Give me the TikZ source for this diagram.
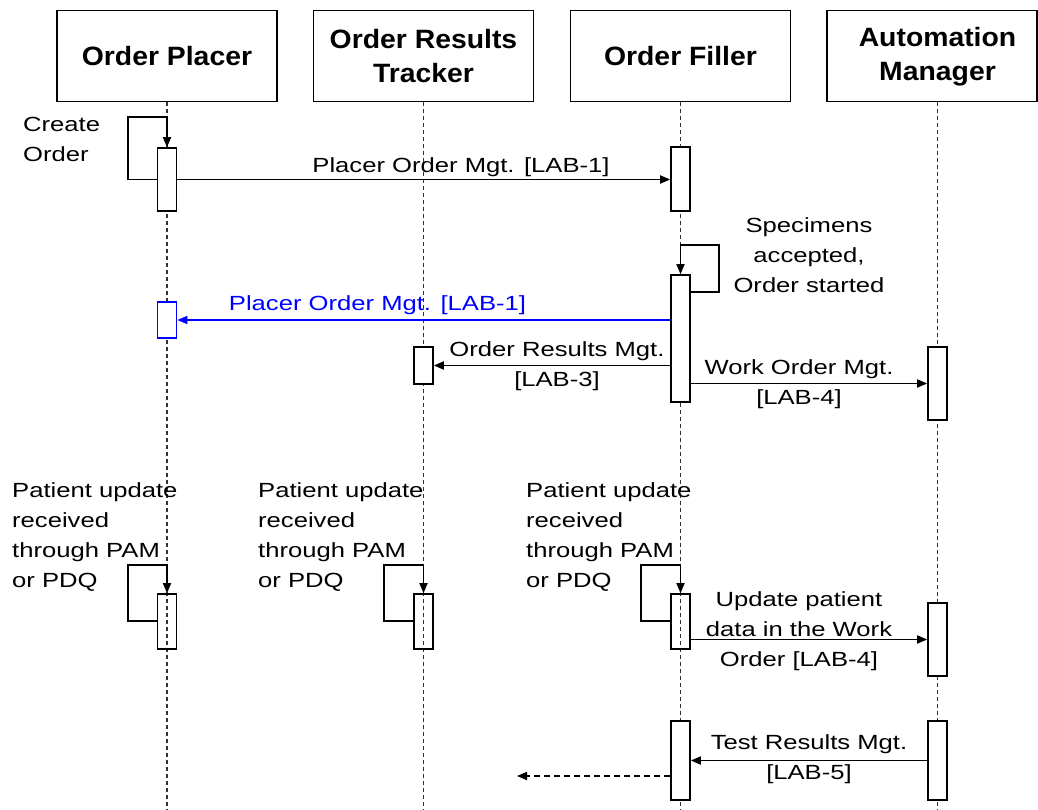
\documentclass[tikz,border=0pt]{standalone}
\usepackage{fontspec}
\setmainfont{Liberation Sans}[FakeStretch=1.25]
\newfontfamily\hdrfont{Liberation Sans}[FakeStretch=1.07]
\usepackage{tikz}
\usetikzlibrary{arrows.meta, positioning}

\begin{document}
\begin{tikzpicture}[x=1pt, y=-1pt,
    hdr/.style={draw, line width=1.6pt, minimum width=220pt, minimum height=91pt, align=center, font=\hdrfont\bfseries\fontsize{26.5}{34}\selectfont},
    act/.style={draw, line width=1.6pt, fill=white, minimum width=19pt, inner sep=0pt},
    hollow/.style={act, fill=none},
    life/.style={line width=1.3pt, black!80, dash pattern=on 4pt off 3pt},
    msg/.style={line width=1.7pt, -{Triangle[length=10pt, width=8pt]}},
    lbl/.style={font=\fontsize{20.5}{30}\selectfont, inner sep=0pt, align=center}]

    \useasboundingbox (0,0) rectangle (1038,810);

    \node[hdr] (op) at (167,56) {Order Placer};
    \node[hdr] (ort) at (423.5,56) {Order Results\\Tracker};
    \node[hdr] (of) at (680.5,56) {Order Filler};
    \node[hdr, minimum width=210pt] (amBox) at (932,56) {};
    \node[font=\hdrfont\bfseries\fontsize{26.5}{34}\selectfont, align=center] (am) at (937.5,57) {Automation\\Manager};


    \draw[life] (op.south) -- ++(0,709);
    \draw[life] (ort.south) -- ++(0,709);
    \draw[life] (of.south) -- ++(0,709);
    \draw[life] (am |- amBox.south) -- ++(0,709);


    \node[act, minimum height=63pt] (opA1) at (167,179.5) {};
    \node[act, minimum height=64pt] (ofA1) at (680.5,179) {};
    \node[act, minimum height=127pt] (ofA2) at (680.5,338.5) {};
    \node[act, draw=blue, minimum height=36pt] (opA2) at (167,320) {};
    \node[act, minimum height=37pt] (ortA1) at (423.5,365.5) {};
    \node[act, minimum height=73pt] (amA1) at (937.5,383.5) {};
    \node[hollow, minimum height=55pt] (opA3) at (167,621.5) {};
    \node[hollow, minimum height=55pt] (ortA2) at (423.5,621.5) {};
    \node[hollow, minimum height=55pt] (ofA3) at (680.5,621.5) {};
    \node[act, minimum height=73pt] (amA2) at (937.5,639.5) {};
    \node[act, minimum height=79pt] (ofA4) at (680.5,760.5) {};
    \node[act, minimum height=79pt] (amA3) at (937.5,760.5) {};


    \draw[msg] (opA1.west) -- ++(-29,0) |- ([yshift=30pt]opA1.north) -- (opA1.north);
    \node[lbl, anchor=north west, align=left] (createLbl) at (23,117) {Create\\Order};

    \draw[msg] (opA1.east) -- (opA1.east -| ofA1.west);
    \node[lbl, anchor=base] (pomLbl) at (461,173) {Placer Order Mgt. [LAB-1]};

    \draw[msg] ([yshift=-18pt]ofA2.north east) -- ++(28,0) |- ([yshift=29pt]ofA2.north) -- (ofA2.north);
    \node[lbl, anchor=north] (specLbl) at (809,217) {Specimens\\accepted,\\Order started};

    \draw[msg, blue] (opA2.east -| ofA2.west) -- (opA2.east);
    \node[lbl, anchor=base, text=blue] (pomBackLbl) at (377.5,310) {Placer Order Mgt. [LAB-1]};

    \draw[msg] (ortA1.east -| ofA2.west) -- (ortA1.east);
    \node[lbl, anchor=north] (ormLbl) at (557,341) {Order Results Mgt.\\{}[LAB-3]};

    \draw[msg] (amA1.west -| ofA2.east) -- (amA1.west);
    \node[lbl, anchor=north] (womLbl) at (799,359) {Work Order Mgt.\\{}[LAB-4]};


    \draw[msg] ([yshift=-28pt]opA3.north west) -- ++(-29,0) |- ([yshift=28pt]opA3.north) -- (opA3.north);
    \draw[msg] ([yshift=-28pt]ortA2.north west) -- ++(-29,0) |- ([yshift=28pt]ortA2.north) -- (ortA2.north);
    \draw[msg] ([yshift=-28pt]ofA3.north west) -- ++(-29,0) |- ([yshift=28pt]ofA3.north) -- (ofA3.north);
    \node[lbl, anchor=north west, align=left] (opPatLbl) at (12,482) {Patient update\\received\\through PAM\\or PDQ};
    \node[lbl, anchor=north west, align=left] (ortPatLbl) at (258,482) {Patient update\\received\\through PAM\\or PDQ};
    \node[lbl, anchor=north west, align=left] (ofPatLbl) at (526,482) {Patient update\\received\\through PAM\\or PDQ};

    \draw[msg] (ofA3.east |- amA2.west) -- (amA2.west);
    \node[lbl, anchor=north] (updLbl) at (799,591) {Update patient\\data in the Work\\Order [LAB-4]};


    \draw[msg] (amA3.west) -- (ofA4.east);
    \node[lbl, anchor=north] (trmLbl) at (809,734) {Test Results Mgt.\\{}[LAB-5]};

    \coordinate (resOut) at (517,776);
    \draw[msg, dash pattern=on 6pt off 4pt] (ofA4.west |- resOut) -- (resOut);
\end{tikzpicture}
\end{document}
